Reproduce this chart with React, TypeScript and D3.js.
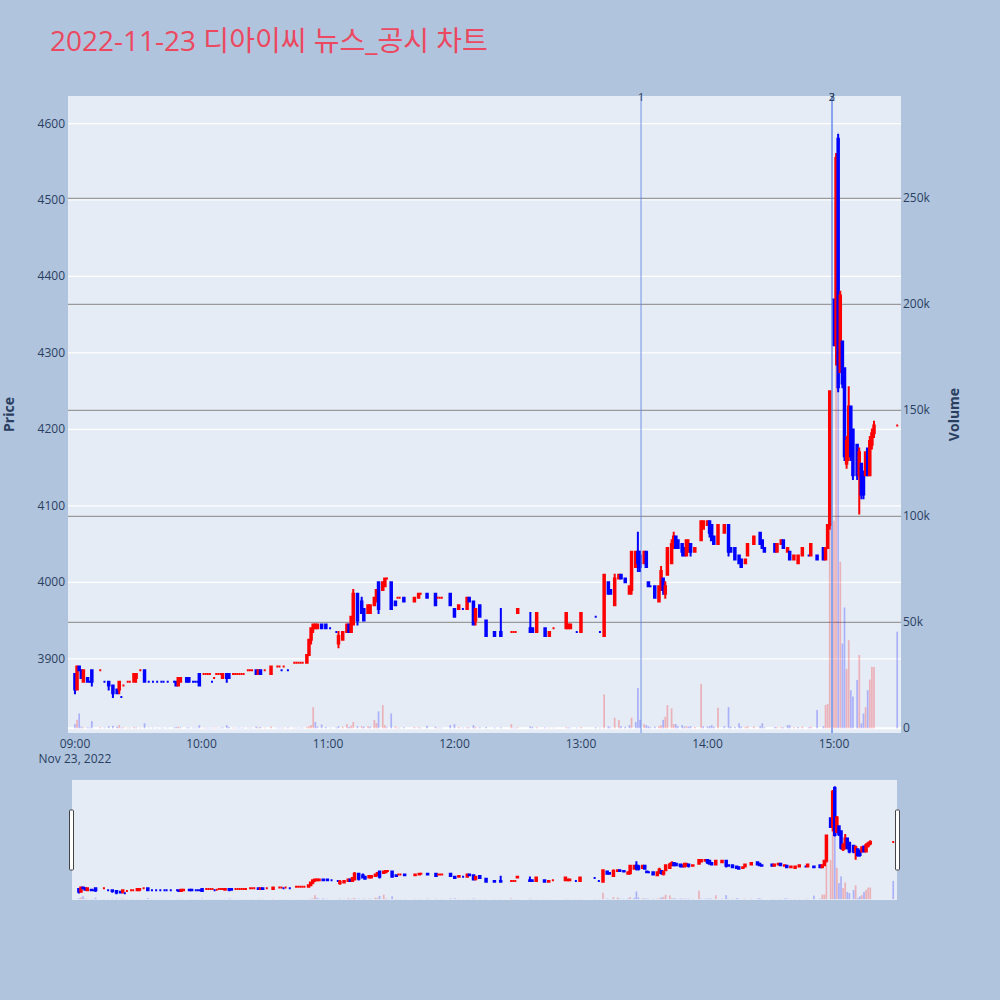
import React from "react";
import * as d3 from "d3";

// one-minute bars of 2022-11-23 (times without trades are simply absent)
const times = [
  "09:00", "09:01", "09:02", "09:03", "09:04", "09:06", "09:07", "09:08", "09:12", "09:14",
  "09:16", "09:18", "09:20", "09:21", "09:22", "09:23", "09:25", "09:26", "09:28", "09:29",
  "09:31", "09:33", "09:35", "09:37", "09:39", "09:41", "09:42", "09:44", "09:47", "09:48",
  "09:49", "09:50", "09:53", "09:54", "09:56", "09:57", "09:58", "09:59", "10:01", "10:02",
  "10:03", "10:04", "10:05", "10:06", "10:07", "10:08", "10:09", "10:10", "10:12", "10:13",
  "10:15", "10:16", "10:17", "10:18", "10:19", "10:20", "10:22", "10:23", "10:24", "10:26",
  "10:27", "10:28", "10:30", "10:33", "10:36", "10:37", "10:38", "10:39", "10:41", "10:44",
  "10:45", "10:46", "10:47", "10:48", "10:50", "10:51", "10:52", "10:53", "10:54", "10:55",
  "10:57", "10:59", "11:01", "11:04", "11:05", "11:07", "11:09", "11:10", "11:11", "11:12",
  "11:14", "11:16", "11:17", "11:19", "11:20", "11:22", "11:23", "11:24", "11:26", "11:27",
  "11:28", "11:30", "11:32", "11:33", "11:34", "11:36", "11:41", "11:43", "11:44", "11:47",
  "11:51", "11:52", "11:53", "11:54", "11:58", "12:00", "12:02", "12:04", "12:06", "12:07",
  "12:09", "12:10", "12:12", "12:15", "12:19", "12:22", "12:27", "12:28", "12:29", "12:30",
  "12:36", "12:37", "12:39", "12:43", "12:45", "12:47", "12:53", "12:54", "12:55", "12:58",
  "13:00", "13:07", "13:09", "13:11", "13:13", "13:14", "13:16", "13:18", "13:19", "13:21",
  "13:23", "13:24", "13:26", "13:27", "13:28", "13:30", "13:31", "13:32", "13:33", "13:35",
  "13:37", "13:38", "13:39", "13:40", "13:41", "13:43", "13:44", "13:45", "13:46", "13:48",
  "13:49", "13:50", "13:51", "13:52", "13:54", "13:57", "13:58", "14:00", "14:01", "14:02",
  "14:03", "14:05", "14:08", "14:10", "14:11", "14:13", "14:15", "14:16", "14:18", "14:19",
  "14:22", "14:25", "14:26", "14:27", "14:32", "14:33", "14:35", "14:36", "14:38", "14:39",
  "14:41", "14:43", "14:45", "14:48", "14:49", "14:52", "14:55", "14:56", "14:57", "14:58",
  "15:00", "15:01", "15:02", "15:03", "15:04", "15:05", "15:06", "15:07", "15:08", "15:09",
  "15:11", "15:12", "15:13", "15:14", "15:15", "15:16", "15:17", "15:18", "15:19", "15:30",
];

const opens = [
  3880, 3860, 3890, 3885, 3870, 3875, 3870, 3885, 3885, 3870,
  3870, 3865, 3860, 3860, 3850, 3865, 3870, 3870, 3870, 3875,
  3885, 3885, 3870, 3870, 3870, 3870, 3870, 3870, 3870, 3870,
  3865, 3870, 3875, 3875, 3870, 3870, 3870, 3880, 3880, 3880,
  3880, 3880, 3870, 3875, 3880, 3880, 3880, 3875, 3880, 3880,
  3880, 3880, 3880, 3880, 3880, 3880, 3885, 3885, 3885, 3885,
  3880, 3885, 3885, 3880, 3890, 3890, 3885, 3890, 3885, 3895,
  3895, 3895, 3895, 3895, 3895, 3905, 3925, 3940, 3940, 3940,
  3945, 3945, 3940, 3935, 3920, 3925, 3935, 3945, 3935, 3945,
  3985, 3975, 3965, 3960, 3960, 3970, 3980, 4000, 3990, 3995,
  4005, 4000, 3975, 3980, 3980, 3980, 3975, 3980, 3985, 3985,
  3985, 3980, 3980, 3980, 3985, 3965, 3965, 3965, 3965, 3980,
  3975, 3950, 3970, 3950, 3935, 3935, 3935, 3935, 3935, 3960,
  3940, 3940, 3935, 3940, 3930, 3940, 3940, 3940, 3940, 3935,
  3935, 3955, 3935, 3930, 4000, 3990, 3970, 4005, 4010, 4005,
  3985, 3990, 4020, 4040, 4035, 4025, 4040, 4000, 3995, 3995,
  3975, 3995, 4005, 3985, 4010, 4025, 4045, 4060, 4055, 4050,
  4045, 4035, 4040, 4050, 4040, 4055, 4070, 4075, 4080, 4075,
  4060, 4050, 4065, 4075, 4045, 4045, 4035, 4030, 4025, 4035,
  4050, 4065, 4055, 4045, 4050, 4040, 4050, 4055, 4040, 4040,
  4030, 4025, 4035, 4035, 4035, 4035, 4045, 4030, 4045, 4075,
  4370, 4310, 4580, 4275, 4315, 4280, 4155, 4165, 4230, 4200,
  4180, 4140, 4155, 4145, 4140, 4175, 4140, 4180, 4195, 4205,
];

const highs = [
  3880, 3890, 3890, 3885, 3885, 3875, 3870, 3885, 3885, 3870,
  3870, 3865, 3860, 3870, 3850, 3865, 3870, 3870, 3880, 3880,
  3885, 3885, 3870, 3870, 3870, 3870, 3870, 3870, 3870, 3870,
  3875, 3875, 3875, 3875, 3870, 3870, 3870, 3880, 3880, 3880,
  3880, 3880, 3870, 3875, 3880, 3880, 3880, 3880, 3880, 3880,
  3880, 3880, 3880, 3880, 3880, 3880, 3885, 3885, 3885, 3885,
  3885, 3885, 3885, 3890, 3890, 3890, 3885, 3890, 3885, 3895,
  3895, 3895, 3895, 3895, 3905, 3925, 3940, 3945, 3945, 3945,
  3945, 3945, 3940, 3935, 3935, 3935, 3945, 3945, 3955, 3990,
  3985, 3980, 3965, 3970, 3970, 3980, 3990, 4000, 4000, 4005,
  4005, 4000, 3975, 3980, 3980, 3980, 3980, 3985, 3985, 3985,
  3985, 3980, 3980, 3980, 3985, 3965, 3970, 3965, 3980, 3980,
  3975, 3965, 3970, 3950, 3935, 3965, 3935, 3935, 3935, 3965,
  3960, 3940, 3960, 3940, 3935, 3940, 3960, 3945, 3945, 3935,
  3960, 3955, 3935, 4010, 4000, 3990, 4010, 4010, 4010, 4005,
  3995, 4040, 4040, 4065, 4040, 4040, 4040, 4000, 3995, 3995,
  3995, 4020, 4005, 4000, 4045, 4055, 4065, 4060, 4055, 4050,
  4045, 4055, 4055, 4050, 4045, 4080, 4080, 4080, 4080, 4075,
  4060, 4075, 4075, 4075, 4045, 4045, 4035, 4030, 4030, 4050,
  4060, 4065, 4055, 4045, 4050, 4050, 4055, 4055, 4045, 4040,
  4035, 4035, 4045, 4035, 4050, 4035, 4045, 4045, 4075, 4250,
  4370, 4560, 4585, 4380, 4315, 4280, 4190, 4255, 4230, 4200,
  4180, 4175, 4155, 4145, 4170, 4175, 4190, 4200, 4210, 4205,
];

const lows = [
  3855, 3860, 3885, 3875, 3870, 3870, 3870, 3865, 3885, 3870,
  3860, 3850, 3855, 3855, 3850, 3865, 3870, 3870, 3870, 3870,
  3885, 3870, 3870, 3870, 3870, 3870, 3870, 3870, 3870, 3865,
  3865, 3870, 3870, 3870, 3870, 3870, 3870, 3865, 3880, 3880,
  3880, 3880, 3870, 3875, 3880, 3880, 3880, 3875, 3870, 3875,
  3880, 3880, 3880, 3880, 3880, 3880, 3885, 3885, 3885, 3880,
  3880, 3880, 3885, 3880, 3890, 3890, 3885, 3890, 3885, 3895,
  3895, 3895, 3895, 3895, 3895, 3905, 3920, 3935, 3940, 3940,
  3940, 3940, 3940, 3935, 3915, 3925, 3935, 3935, 3935, 3945,
  3945, 3960, 3950, 3960, 3960, 3970, 3975, 3960, 3990, 3995,
  4005, 3965, 3970, 3980, 3980, 3975, 3975, 3980, 3985, 3980,
  3970, 3980, 3980, 3980, 3970, 3955, 3965, 3965, 3965, 3975,
  3945, 3945, 3955, 3930, 3930, 3930, 3935, 3935, 3935, 3960,
  3935, 3935, 3935, 3930, 3930, 3940, 3940, 3940, 3940, 3935,
  3935, 3955, 3935, 3930, 3985, 3985, 3970, 4005, 4005, 4000,
  3985, 3985, 4020, 4015, 4015, 4025, 4020, 3995, 3995, 3980,
  3975, 3990, 3985, 3980, 4010, 4025, 4045, 4045, 4045, 4035,
  4035, 4035, 4040, 4035, 4040, 4055, 4070, 4075, 4060, 4055,
  4050, 4050, 4065, 4035, 4040, 4030, 4025, 4020, 4025, 4035,
  4050, 4050, 4045, 4040, 4040, 4040, 4050, 4045, 4040, 4030,
  4030, 4025, 4035, 4035, 4035, 4030, 4030, 4030, 4045, 4070,
  4310, 4285, 4250, 4275, 4255, 4160, 4150, 4160, 4160, 4135,
  4135, 4090, 4110, 4110, 4140, 4140, 4140, 4175, 4190, 4205,
];

const closes = [
  3860, 3890, 3885, 3875, 3885, 3870, 3870, 3870, 3885, 3870,
  3865, 3855, 3855, 3870, 3850, 3865, 3870, 3870, 3880, 3880,
  3885, 3870, 3870, 3870, 3870, 3870, 3870, 3870, 3870, 3865,
  3875, 3875, 3870, 3870, 3870, 3870, 3870, 3865, 3880, 3880,
  3880, 3880, 3870, 3875, 3880, 3880, 3880, 3880, 3875, 3875,
  3880, 3880, 3880, 3880, 3880, 3880, 3885, 3885, 3885, 3880,
  3885, 3880, 3885, 3890, 3890, 3890, 3885, 3890, 3885, 3895,
  3895, 3895, 3895, 3895, 3905, 3925, 3940, 3945, 3945, 3945,
  3940, 3940, 3940, 3935, 3930, 3935, 3945, 3935, 3955, 3985,
  3950, 3960, 3950, 3970, 3970, 3980, 3990, 3965, 4000, 4005,
  4005, 3965, 3970, 3980, 3980, 3975, 3980, 3985, 3985, 3980,
  3970, 3980, 3980, 3980, 3970, 3955, 3970, 3965, 3980, 3975,
  3945, 3965, 3955, 3930, 3930, 3930, 3935, 3935, 3935, 3965,
  3935, 3935, 3960, 3930, 3935, 3940, 3960, 3945, 3945, 3935,
  3960, 3955, 3935, 4010, 3985, 3985, 4005, 4010, 4005, 4000,
  3995, 4040, 4040, 4025, 4020, 4040, 4020, 3995, 3995, 3980,
  3995, 4015, 3990, 3995, 4045, 4050, 4060, 4045, 4045, 4040,
  4035, 4055, 4050, 4040, 4045, 4080, 4080, 4080, 4065, 4055,
  4050, 4075, 4075, 4040, 4040, 4030, 4025, 4020, 4030, 4050,
  4060, 4050, 4045, 4040, 4040, 4050, 4055, 4045, 4045, 4030,
  4035, 4035, 4045, 4035, 4050, 4030, 4030, 4045, 4075, 4250,
  4310, 4555, 4255, 4375, 4260, 4165, 4185, 4230, 4165, 4140,
  4140, 4170, 4115, 4115, 4170, 4140, 4185, 4195, 4205, 4205,
];

const volumes = [
  2000, 4000, 7000, 800, 500, 500, 400, 3400, 500, 400,
  1000, 1200, 800, 1500, 400, 500, 300, 300, 600, 400,
  300, 2400, 300, 300, 200, 300, 200, 300, 400, 600,
  800, 500, 400, 400, 300, 300, 300, 1500, 300, 300,
  300, 200, 300, 300, 300, 200, 300, 500, 1500, 600,
  300, 200, 300, 300, 200, 300, 300, 300, 200, 800,
  500, 600, 300, 800, 300, 300, 300, 300, 400, 300,
  300, 200, 300, 300, 600, 1000, 1500, 10000, 3000, 800,
  1800, 600, 300, 400, 1000, 800, 2000, 600, 1200, 3000,
  1000, 1000, 800, 1000, 800, 4000, 2500, 8000, 11000, 1500,
  500, 7000, 800, 300, 300, 500, 600, 500, 300, 1200,
  800, 300, 300, 300, 1500, 2000, 600, 300, 500, 400,
  1500, 600, 500, 600, 400, 500, 2000, 300, 300, 500,
  1000, 600, 500, 400, 300, 300, 500, 400, 300, 300,
  600, 500, 300, 16000, 1000, 500, 5000, 4000, 1000, 800,
  1500, 5000, 3000, 19000, 4000, 2000, 1500, 1000, 500, 800,
  1000, 1500, 4000, 5500, 11000, 9400, 2000, 2000, 1000, 1500,
  800, 1000, 800, 1000, 600, 21000, 1000, 800, 1000, 1500,
  800, 9700, 1000, 10000, 800, 600, 2400, 800, 600, 1000,
  800, 1000, 2400, 500, 600, 500, 600, 500, 1500, 1500,
  500, 600, 800, 500, 800, 8600, 1000, 11000, 11500, 95000,
  98000, 190000, 281000, 78600, 40000, 57000, 28000, 41600, 18000, 15000,
  22800, 34600, 2400, 7000, 10000, 18000, 23000, 29000, 29000, 45600,
];

// news / disclosure markers
const eventTimes = ["13:28:30", "14:59:05", "14:59:05"];
const eventLabels = ["1", "2", "3"];

const priceTicks = [3900, 4000, 4100, 4200, 4300, 4400, 4500, 4600];
const volumeTicks = [0, 50000, 100000, 150000, 200000, 250000];

const DAY = "2022-11-23";
const UP = "#ff0000";
const DOWN = "#0000ff";
const FONT = "'Open Sans', 'Noto Sans', Arial, sans-serif";
const TEXT = "#2a3f5f";

const parse = d3.timeParse("%Y-%m-%d %H:%M:%S");
const toDate = (t: string) => parse(`${DAY} ${t.length === 5 ? t + ":00" : t}`) as Date;

const xDomain: [Date, Date] = [toDate("08:56:42"), toDate("15:31:48")];
const priceDomain = [3803, 4636];
const volumeDomain = [-2200, 298300];

const plot = { left: 68, right: 901, top: 96, bottom: 733 };
const slider = { left: 72, right: 897, top: 780, bottom: 900 };

type Bar = { date: Date; o: number; h: number; l: number; c: number; v: number; inc: boolean; volUp: boolean };

// direction rule of plotly ohlc: equal open/close looks at the previous close
let increasing = true;
let prevClose: number | null = null;
const bars: Bar[] = times.map((t, i) => {
  const o = opens[i];
  const c = closes[i];
  if (c === o) {
    if (prevClose !== null && c !== prevClose) increasing = c > prevClose;
  } else increasing = c > o;
  const volUp = i === 0 ? c >= o : c > closes[i - 1];
  prevClose = c;
  return { date: toDate(t), o, h: highs[i], l: lows[i], c, v: volumes[i], inc: increasing, volUp };
});

const Panel: React.FC<{ box: typeof plot; id: string }> = ({ box, id }) => {
  const x = d3.scaleTime().domain(xDomain).range([box.left, box.right]);
  const yP = d3.scaleLinear().domain(priceDomain).range([box.bottom, box.top]);
  const yV = d3.scaleLinear().domain(volumeDomain).range([box.bottom, box.top]);
  const barW = 1.7;
  const half = 0.75;
  return (
    <g clipPath={`url(#${id})`}>
      {bars.map((d, i) => (
        <rect
          key={"v" + i}
          x={x(d.date) - barW / 2}
          y={yV(d.v)}
          width={barW}
          height={Math.max(0, yV(0) - yV(d.v))}
          fill={d.volUp ? UP : DOWN}
          opacity={0.25}
        />
      ))}
      {bars.map((d, i) => {
        const cx = x(d.date);
        const col = d.inc ? UP : DOWN;
        const top = yP(Math.max(d.o, d.c));
        const bot = yP(Math.min(d.o, d.c));
        const path =
          `M${cx - half},${top}H${cx + half}V${bot}H${cx - half}Z` +
          `M${cx},${yP(d.h)}V${top}M${cx},${bot}V${yP(d.l)}`;
        return (
          <path key={"c" + i} d={path} fill={col} stroke={col} strokeWidth={2} strokeLinecap="square" />
        );
      })}
    </g>
  );
};

const App: React.FC = () => {
  const x = d3.scaleTime().domain(xDomain).range([plot.left, plot.right]);
  const yP = d3.scaleLinear().domain(priceDomain).range([plot.bottom, plot.top]);
  const yV = d3.scaleLinear().domain(volumeDomain).range([plot.bottom, plot.top]);
  const hourTicks = x.ticks(d3.timeHour.every(1) as d3.TimeInterval).filter((d) => d >= toDate("09:00"));
  const fmtHour = d3.timeFormat("%H:%M");
  const fmtVol = d3.format("~s");
  const midY = (plot.top + plot.bottom) / 2;

  return (
    <svg
      width={1000}
      height={1000}
      style={{ position: "absolute", left: 0, top: 0, fontFamily: FONT }}
    >
      <defs>
        <clipPath id="mainClip">
          <rect x={plot.left} y={plot.top} width={plot.right - plot.left} height={plot.bottom - plot.top} />
        </clipPath>
        <clipPath id="sliderClip">
          <rect x={slider.left} y={slider.top} width={slider.right - slider.left} height={slider.bottom - slider.top} />
        </clipPath>
      </defs>
      <rect width={1000} height={1000} fill="#b0c4de" />
      <text x={50} y={51} fontSize={28} fill="#ec4860" fontFamily={`${FONT}, 'Noto Sans CJK KR'`}>
        2022-11-23 디아이씨 뉴스_공시 차트
      </text>

      {/* main plot */}
      <rect x={plot.left} y={plot.top} width={plot.right - plot.left} height={plot.bottom - plot.top} fill="#e5ecf6" />
      {priceTicks.map((t) => (
        <line key={"pg" + t} x1={plot.left} x2={plot.right} y1={yP(t)} y2={yP(t)} stroke="#fff" strokeWidth={1.2} />
      ))}
      {volumeTicks.map((t) => (
        <line
          key={"vg" + t}
          x1={plot.left}
          x2={plot.right}
          y1={yV(t)}
          y2={yV(t)}
          stroke={t === 0 ? "#fff" : "#9a9a9a"}
          strokeWidth={t === 0 ? 2 : 1.3}
        />
      ))}
      <Panel box={plot} id="mainClip" />
      {eventTimes.map((t, i) => {
        const ex = x(toDate(t));
        return (
          <g key={"e" + i}>
            <line x1={ex} x2={ex} y1={plot.top} y2={plot.bottom} stroke="#5f83e6" strokeOpacity={0.55} strokeWidth={1.6} />
            <text x={ex} y={101} fontSize={11} fill={TEXT} textAnchor="middle">
              {eventLabels[i]}
            </text>
          </g>
        );
      })}

      {/* axes */}
      {priceTicks.map((t) => (
        <text key={"pl" + t} x={65} y={yP(t) + 4} fontSize={12} fill={TEXT} textAnchor="end">
          {t}
        </text>
      ))}
      {volumeTicks.map((t) => (
        <text key={"vl" + t} x={903} y={yV(t) + 4} fontSize={12} fill={TEXT} textAnchor="start">
          {fmtVol(t)}
        </text>
      ))}
      {hourTicks.map((d) => (
        <text key={"xl" + d.getTime()} x={x(d)} y={748} fontSize={12} fill={TEXT} textAnchor="middle">
          {fmtHour(d)}
        </text>
      ))}
      <text x={x(toDate("09:00"))} y={763} fontSize={12} fill={TEXT} textAnchor="middle">
        Nov 23, 2022
      </text>
      <text transform={`translate(14,${midY}) rotate(-90)`} fontSize={14} fontWeight="bold" fill={TEXT} textAnchor="middle">
        Price
      </text>
      <text transform={`translate(959,${midY}) rotate(-90)`} fontSize={14} fontWeight="bold" fill={TEXT} textAnchor="middle">
        Volume
      </text>

      {/* range slider */}
      <rect x={slider.left} y={slider.top} width={slider.right - slider.left} height={slider.bottom - slider.top} fill="#e5ecf6" />
      <Panel box={slider} id="sliderClip" />
      {[slider.left - 2.5, slider.right - 1.5].map((hx, i) => (
        <rect key={"h" + i} x={hx} y={810} width={4} height={60} rx={1} fill="#fff" stroke="#444" strokeWidth={1} />
      ))}
    </svg>
  );
};

export default App;
